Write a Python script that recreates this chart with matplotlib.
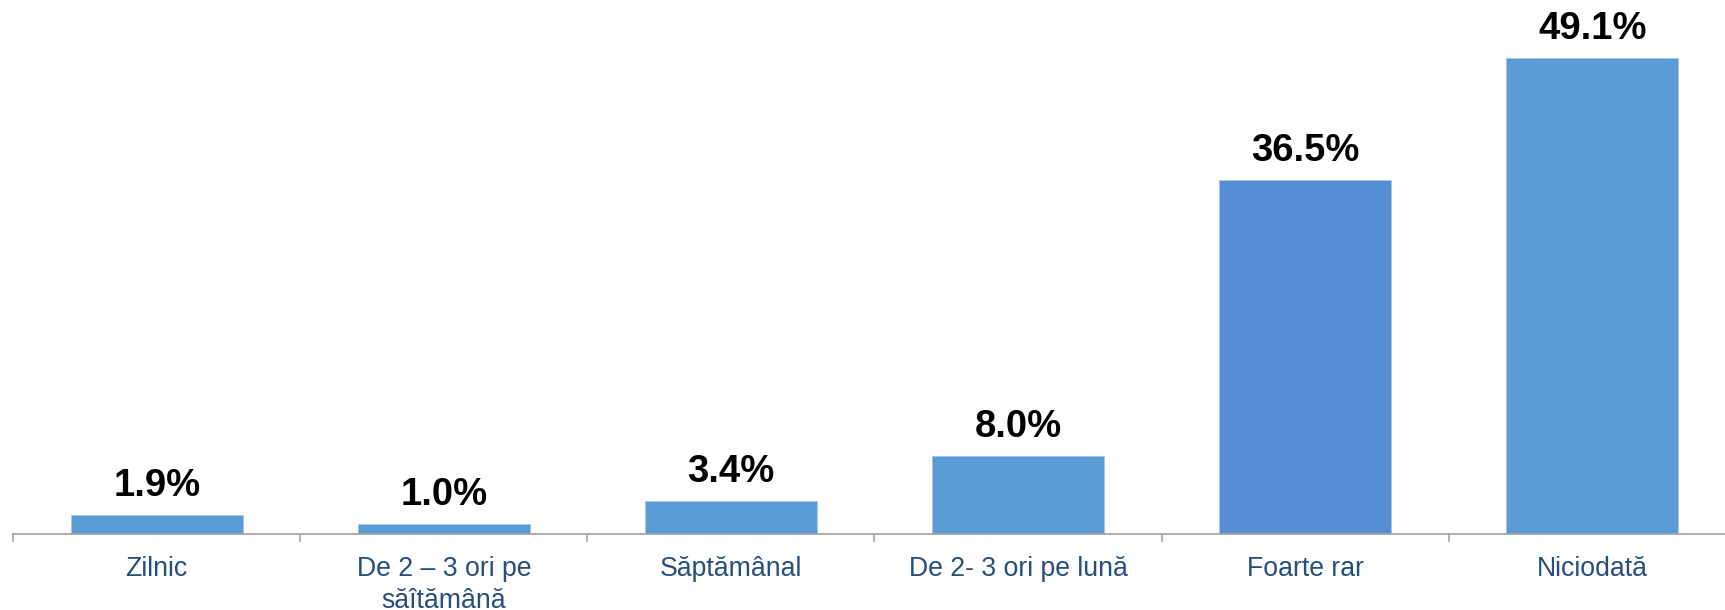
import matplotlib
matplotlib.use("Agg")
import matplotlib.pyplot as plt
import numpy as np

categories = ["Zilnic", "De 2 – 3 ori pe\nsăîtămână", "Săptămânal",
              "De 2- 3 ori pe lună", "Foarte rar", "Niciodată"]
values = [1.9, 1.0, 3.4, 8.0, 36.5, 49.1]
value_labels = ["1.9%", "1.0%", "3.4%", "8.0%", "36.5%", "49.1%"]
bar_colors = ["#5B9BD5", "#5B9BD5", "#5B9BD5", "#5B9BD5", "#558ED5", "#5B9BD5"]

plt.rcParams["font.family"] = ["Liberation Sans", "DejaVu Sans"]

fig = plt.figure(figsize=(17.25, 6.10), dpi=100)
ax = fig.add_axes([0.00765, 0.1254, 0.9986, 0.8746])

x = np.arange(len(categories))
ax.bar(x, values, width=0.6, color=bar_colors, edgecolor="#A8C6E8",
       linewidth=0.6, zorder=2)

for xi, v, lab in zip(x, values, value_labels):
    ax.annotate(lab, (xi, v), xytext=(0, 13.5), textcoords="offset points",
                ha="center", va="baseline", fontsize=27.5, fontweight="bold",
                color="#000000")

ax.set_xlim(-0.5, len(categories) - 0.5)
ax.set_ylim(0, 55.1)

for side in ("top", "right", "left"):
    ax.spines[side].set_visible(False)
ax.spines["bottom"].set_color("#A6A6A6")
ax.spines["bottom"].set_linewidth(1.3)
ax.yaxis.set_visible(False)

ax.set_xticks(x)
ax.set_xticklabels(categories, fontsize=19.2, color="#264F7D", linespacing=1.27)
ax.tick_params(axis="x", which="major", length=0, pad=16.5)
ax.set_xticks(np.arange(len(categories) + 1) - 0.5, minor=True)
ax.tick_params(axis="x", which="minor", length=6, width=1.2, color="#A6A6A6")

fig.savefig("out.png", dpi=100)
